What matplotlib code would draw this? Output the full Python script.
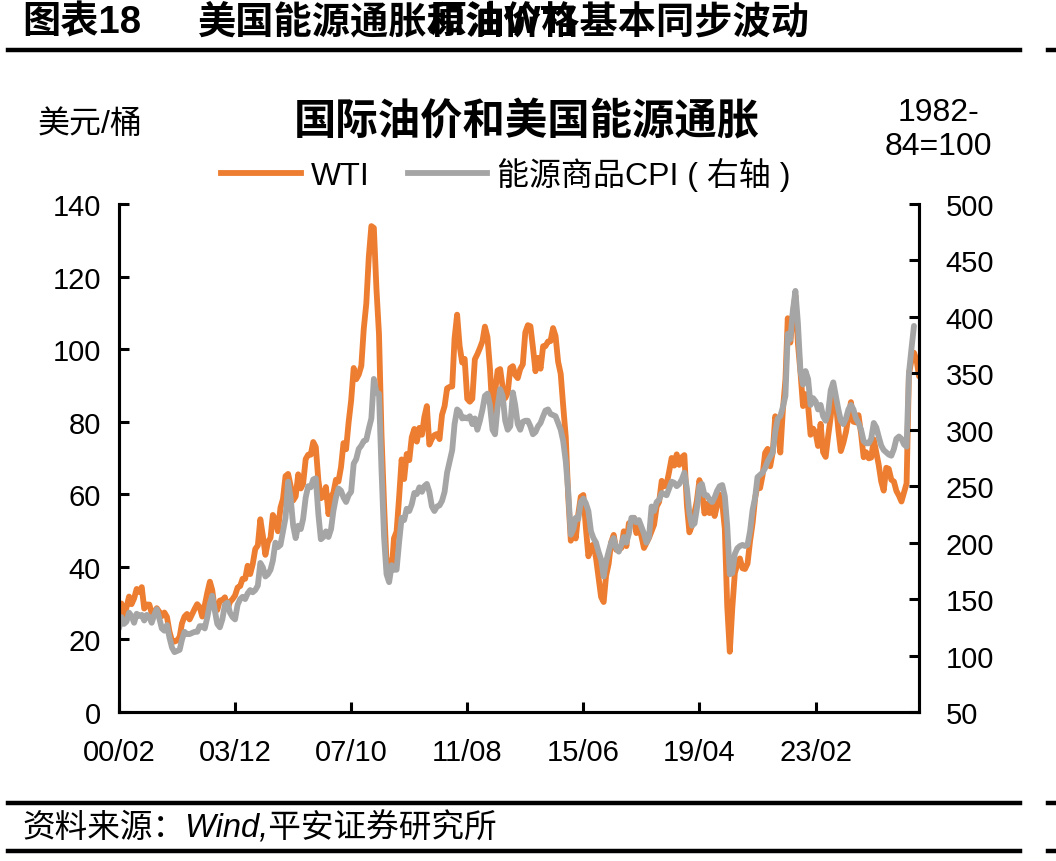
import matplotlib
matplotlib.use("Agg")
import matplotlib.pyplot as plt
from matplotlib.lines import Line2D
import pandas as pd

plt.rcParams["font.family"] = ["Liberation Sans", "Noto Sans CJK SC", "DejaVu Sans"]

ORANGE = "#ED7D31"
GRAY = "#A5A5A5"

# WTI monthly average, USD/bbl, 2000-02 .. 2026-07
wti = [
    29.4, 29.9, 25.7, 28.8, 31.8, 29.7, 31.3, 33.9, 33.1, 34.4, 28.5,          # 2000
    29.6, 29.6, 27.2, 27.4, 28.6, 27.6, 26.4, 27.4, 26.2, 22.2, 19.6, 19.4,    # 2001
    19.7, 20.7, 24.4, 26.3, 27.0, 25.5, 26.9, 28.4, 29.7, 28.9, 26.3, 29.4,    # 2002
    32.9, 35.9, 33.6, 28.3, 28.1, 30.7, 30.8, 31.6, 28.3, 30.3, 31.1, 32.1,    # 2003
    34.3, 34.7, 36.7, 36.7, 40.3, 38.0, 40.7, 44.9, 45.9, 53.1, 48.5, 43.3,    # 2004
    46.8, 48.0, 54.3, 53.0, 49.8, 56.3, 58.7, 65.0, 65.6, 62.4, 58.3, 59.4,    # 2005
    65.5, 61.6, 62.9, 69.7, 70.9, 70.9, 74.4, 73.0, 63.8, 58.9, 59.4, 62.0,    # 2006
    54.5, 59.3, 60.4, 64.0, 63.5, 67.5, 74.1, 72.4, 79.9, 85.8, 94.8, 91.7,    # 2007
    93.0, 95.4, 105.5, 112.6, 125.4, 133.9, 133.4, 116.7, 104.1, 76.6, 57.3, 41.1,  # 2008
    41.7, 39.1, 47.9, 49.7, 59.0, 69.6, 64.2, 71.1, 69.4, 75.7, 78.0, 74.5,    # 2009
    78.3, 76.4, 81.2, 84.3, 73.7, 75.3, 76.3, 76.6, 75.2, 81.9, 84.3, 89.2,    # 2010
    89.6, 89.7, 102.9, 109.5, 100.9, 96.3, 97.3, 86.3, 85.5, 86.3, 97.2, 98.6,  # 2011
    100.3, 102.2, 106.2, 103.3, 94.7, 82.3, 87.9, 94.1, 94.5, 89.5, 86.5, 87.9,  # 2012
    94.8, 95.3, 92.9, 92.0, 94.5, 95.8, 104.6, 106.6, 106.3, 100.5, 93.9, 97.6,  # 2013
    94.6, 100.8, 100.8, 102.1, 102.2, 105.8, 103.6, 96.5, 93.2, 84.4, 75.8, 59.3,  # 2014
    47.2, 50.6, 47.8, 54.5, 59.3, 59.8, 50.9, 42.9, 45.5, 46.2, 42.4, 37.2,    # 2015
    31.7, 30.3, 37.5, 40.8, 46.7, 48.8, 44.7, 44.7, 45.2, 49.8, 45.7, 52.0,    # 2016
    52.5, 53.5, 49.3, 51.1, 48.5, 45.2, 46.6, 48.0, 49.8, 51.6, 56.6, 57.9,    # 2017
    63.7, 62.2, 62.7, 66.3, 70.0, 67.9, 71.0, 68.1, 70.2, 70.8, 57.0, 49.5,    # 2018
    51.4, 55.0, 58.2, 63.9, 60.8, 54.7, 57.4, 54.8, 57.0, 54.0, 57.0, 59.9,    # 2019
    57.5, 50.5, 29.2, 16.6, 28.6, 38.3, 40.7, 42.3, 39.6, 39.4, 40.9, 47.0,    # 2020
    52.0, 59.0, 62.4, 61.7, 65.2, 71.4, 72.5, 67.7, 71.6, 81.5, 79.2, 71.5,    # 2021
    83.2, 91.6, 108.5, 101.8, 109.6, 114.8, 101.6, 93.7, 84.3, 87.6, 84.4, 76.4,  # 2022
    78.1, 76.8, 73.3, 79.4, 71.6, 70.3, 76.0, 81.3, 89.4, 85.6, 77.7, 71.9,    # 2023
    74.2, 77.2, 81.3, 85.4, 80.0, 79.8, 81.8, 76.7, 70.2, 71.6, 69.9, 70.1,    # 2024
    75.1, 71.5, 68.2, 63.5, 61.0, 67.3, 67.0, 64.0, 63.5, 60.9, 59.6, 58.0,    # 2025
    60.5, 63.0, 93.0, 97.0, 99.0, 97.0, 92.5,                                  # 2026
]

# energy commodities CPI, 1982-84=100, 2000-02 .. 2026-05
energy_cpi = [
    124, 134, 128, 130, 138, 135, 129, 137, 135, 136, 131,                     # 2000
    136, 134, 129, 136, 141, 133, 124, 122, 127, 116, 107, 103,                # 2001
    104, 105, 114, 121, 119, 119, 120, 121, 121, 126, 126, 124,                # 2002
    134, 146, 153, 140, 128, 125, 132, 145, 147, 138, 134, 132,                # 2003
    145, 150, 152, 150, 155, 158, 156, 158, 162, 182, 178, 170,                # 2004
    172, 176, 184, 200, 196, 198, 210, 222, 254, 240, 215, 204,                # 2005
    215, 212, 221, 240, 250, 249, 256, 257, 225, 203, 205, 210,                # 2006
    205, 212, 228, 240, 248, 246, 240, 236, 242, 245, 270, 274,                # 2007
    283, 286, 290, 291, 301, 310, 345, 333, 332, 265, 205, 172,                # 2008
    165, 180, 176, 176, 200, 222, 220, 230, 228, 234, 244, 243,                # 2009
    249, 245, 250, 252, 245, 232, 228, 232, 233, 237, 245, 262,                # 2010
    272, 282, 305, 318, 316, 310, 311, 310, 312, 305, 310, 300,                # 2011
    308, 318, 330, 332, 322, 300, 296, 320, 336, 330, 308, 300,                # 2012
    303, 333, 322, 305, 300, 307, 308, 308, 303, 296, 298, 303,                # 2013
    306, 312, 317, 318, 314, 313, 312, 306, 300, 290, 272, 245,                # 2014
    207, 212, 222, 221, 236, 239, 235, 228, 210, 204, 200, 192,                # 2015
    185, 170, 183, 192, 200, 204, 195, 192, 198, 205, 200, 208,                # 2016
    222, 222, 218, 220, 214, 208, 200, 205, 232, 228, 236, 238,                # 2017
    244, 243, 242, 248, 254, 253, 250, 252, 256, 262, 248, 226,                # 2018
    215, 217, 230, 250, 252, 242, 242, 238, 236, 240, 246, 250,                # 2019
    251, 241, 215, 172, 173, 190, 195, 197, 198, 197, 198, 210,                # 2020
    229, 240, 258, 260, 262, 266, 272, 276, 280, 298, 310, 312,                # 2021
    320, 330, 385, 380, 405, 423, 395, 352, 340, 352, 345, 322,                # 2022
    328, 325, 318, 322, 312, 308, 315, 335, 342, 330, 318, 308,                # 2023
    305, 310, 318, 322, 318, 310, 306, 300, 290, 288, 288, 292,                # 2024
    306, 302, 294, 286, 282, 280, 278, 277, 283, 292, 294, 292,                # 2025
    287, 285, 350, 372, 392,                                                   # 2026
]

x_tick_labels = ["00/02", "03/12", "07/10", "11/08", "15/06", "19/04", "23/02"]

wti_dates = pd.date_range("2000-02-01", periods=len(wti), freq="MS")
cpi_dates = pd.date_range("2000-02-01", periods=len(energy_cpi), freq="MS")
tick_dates = pd.date_range("2000-02-01", periods=len(x_tick_labels), freq="46MS")

fig = plt.figure(figsize=(10.56, 8.62), dpi=100)
ax = fig.add_axes([0.1127, 0.1729, 0.7576, 0.5893])
ax2 = ax.twinx()

ax.plot(wti_dates, wti, color=ORANGE, lw=4.2, solid_joinstyle="round", solid_capstyle="round")
ax2.plot(cpi_dates, energy_cpi, color=GRAY, lw=4.2, solid_joinstyle="round", solid_capstyle="round")

ax.set_xlim(wti_dates[0], wti_dates[-1])
ax.set_ylim(0, 140)
ax.set_yticks(range(0, 141, 20))
ax2.set_ylim(50, 500)
ax2.set_yticks(range(50, 501, 50))
ax.set_xticks(tick_dates)
ax.set_xticklabels(x_tick_labels)

for axis in (ax, ax2):
    axis.spines["top"].set_visible(False)
    for side in ("left", "right", "bottom"):
        axis.spines[side].set_linewidth(2.2)
        axis.spines[side].set_color("black")

ax.tick_params(axis="y", direction="in", length=7, width=2.2, pad=13, labelsize=21)
ax.tick_params(axis="x", direction="in", length=7, width=2.2, pad=19, labelsize=21)
ax2.tick_params(axis="y", direction="in", length=7, width=2.2, pad=19, labelsize=21)

handles = [Line2D([], [], color=ORANGE, lw=4.2), Line2D([], [], color=GRAY, lw=4.2)]
fig.legend(handles, ["WTI", "能源商品CPI ( 右轴 )"], loc="center", bbox_to_anchor=(0.479, 0.797),
           ncol=2, frameon=False, fontsize=23, handlelength=2.5, handletextpad=0.3,
           columnspacing=1.2)

fig.text(0.499, 0.858, "国际油价和美国能源通胀", ha="center", va="center", fontsize=30.5,
         fontweight="bold", family=["Noto Sans CJK SC"])
fig.text(0.036, 0.855, "美元/桶", ha="left", va="center", fontsize=23)
fig.text(0.889, 0.849, "1982-\n84=100", ha="center", va="center", fontsize=23, linespacing=1.2)

# header
fig.text(0.021, 0.973, "图表18", ha="left", va="center", fontsize=27.5, fontweight="bold")
fig.text(0.1875, 0.973, "美国能源通胀和油价格基本同步波动", ha="left", va="center", fontsize=27.5,
         fontweight="bold")
fig.text(0.405, 0.973, "原油WTI", ha="left", va="center", fontsize=27.5, fontweight="bold")
fig.add_artist(Line2D([0.008, 0.966], [0.941, 0.941], color="black", lw=3.2))
fig.add_artist(Line2D([0.992, 1.0], [0.941, 0.941], color="black", lw=3.2))

# footer
fig.add_artist(Line2D([0.008, 0.966], [0.0672, 0.0672], color="black", lw=3.2))
fig.add_artist(Line2D([0.992, 1.0], [0.0672, 0.0672], color="black", lw=3.2))
fig.text(0.021, 0.039, "资料来源：Wind,平安证券研究所", ha="left", va="center", fontsize=23.5,
         style="italic")
fig.add_artist(Line2D([0.008, 0.966], [0.0116, 0.0116], color="black", lw=3.2))
fig.add_artist(Line2D([0.992, 1.0], [0.0116, 0.0116], color="black", lw=3.2))

fig.savefig("out.png", dpi=100)
